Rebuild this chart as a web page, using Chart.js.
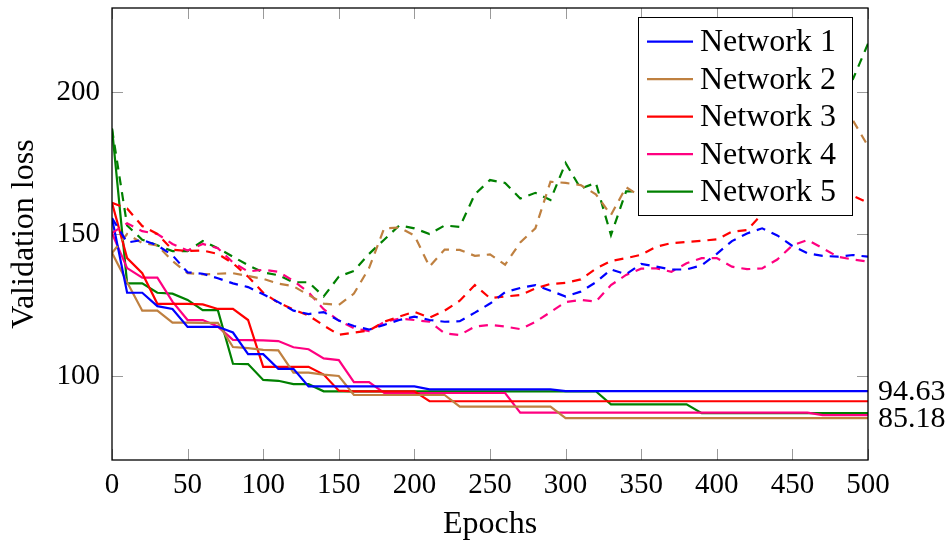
<!DOCTYPE html>
<html><head><meta charset="utf-8">
<script src="https://cdn.jsdelivr.net/npm/chart.js@4.4.1/dist/chart.umd.min.js"></script>
<style>html,body{margin:0;padding:0;background:#fff;}#wrap{width:952px;height:545px;}</style>
</head><body><div id="wrap"><canvas id="c" width="952" height="545"></canvas></div>
<script>
const epochs = [0,10,20,30,40,50,60,70,80,90,100,110,120,130,140,150,160,170,180,190,200,210,220,230,240,250,260,270,280,290,300,310,320,330,340,350,360,370,380,390,400,410,420,430,440,450,460,470,480,490,500];
const xTicks = [0,50,100,150,200,250,300,350,400,450,500];
const yTicks = [100,150,200];
const names = ["Network 1","Network 2","Network 3","Network 4","Network 5"];
const colors = ["#0000FF","#BF8040","#FF0000","#FF0080","#008000"];

const net1Train = [155.6,129.3,129.3,124.6,123.6,117.3,117.3,117.3,115.3,107.7,107.7,102.5,102.5,96.3,96.3,96.3,96.3,96.3,96.3,96.3,96.3,95.3,95.3,95.3,95.3,95.3,95.3,95.3,95.3,95.3,94.63,94.63,94.63,94.63,94.63,94.63,94.63,94.63,94.63,94.63,94.63,94.63,94.63,94.63,94.63,94.63,94.63,94.63,94.63,94.63,94.63];
const net2Train = [143.4,133,123,123,118.8,118.8,118.7,118.7,110.2,109.8,109.2,109,101.2,101.2,100.5,100,93.3,93.3,93.3,93.3,93.3,93.3,93.3,89.2,89.2,89.2,89.2,89.2,89.2,89.2,85.18,85.18,85.18,85.18,85.18,85.18,85.18,85.18,85.18,85.18,85.18,85.18,85.18,85.18,85.18,85.18,85.18,85.18,85.18,85.18,85.18];
const net3Train = [161,141.5,136.2,125.4,125.4,125.4,125.2,123.6,123.6,119.7,103.2,103.2,103.2,103.2,100.5,94.8,94.6,94.6,94.6,94.6,94.6,91.1,91.1,91.1,91.1,91.1,91.1,91.1,91.1,91.1,91.1,91.1,91.1,91.1,91.1,91.1,91.1,91.1,91.1,91.1,91.1,91.1,91.1,91.1,91.1,91.1,91.1,91.1,91.1,91.1,91.1];
const net4Train = [150.3,138,134.6,134.6,126.2,119.7,119.7,117.4,112.7,112.6,112.5,112.3,110.1,109.4,106.2,105.6,97.8,97.8,94,94,94,94,94,94,94,94,94,87.1,87.1,87.1,87.1,87.1,87.1,87.1,87.1,87.1,87.1,87.1,87.1,87.1,87.1,87.1,87.1,87.1,87.1,87.1,87.1,86.2,86.2,86.2,86.2];
const net5Train = [187.2,132.6,132.6,129.3,129,126.8,123.2,123.2,104.3,104.2,98.6,98.3,97.1,97.1,94.6,94.6,94.6,94.6,94.6,94.6,94.6,94.6,94.6,94.6,94.6,94.6,94.6,94.6,94.6,94.6,94.6,94.6,94.6,90,90,90,90,90,90,86.9,86.9,86.9,86.9,86.9,86.9,86.9,86.9,86.9,86.9,86.9,86.9];

const net1Val = [155.6,147,147.9,146,142.5,136.5,136,134.4,132.6,131.3,128.8,126,123,121.8,122.5,119.5,117.6,116.3,118,119.7,120.9,119.7,119.1,119.3,122.3,125.5,129.5,131,132,130,128,129.7,133,137.5,135.8,139.5,138.5,137.5,137.5,139,143,147.5,150.2,152,149.5,145.8,143.2,142.3,142,142.6,142];
const net2Val = [143.3,150,146.8,146,140.5,136.2,135.8,136,136.2,135.2,134.2,132.5,131.6,128.5,125.5,125,129,138,152,152.3,149.5,138.5,144.5,144.4,142.3,142.8,139.2,147,152,168.4,168,167.2,164,156.7,166.5,163,165,168,171,174,177,180,183,185,187,189,191,193,195,190,181];
const net3Val = [161,159,152.8,150,144.5,144,144.2,143,139.7,135,129.3,125.8,123.4,121.3,117.8,114.5,115.3,116,119.1,120.9,122.6,120.5,123,126.5,132,127.4,128,128.5,130.8,132.4,132.8,134,137.8,140.5,141.5,142.7,145.5,146.8,147.2,147.6,148.1,150.8,151.4,157,159,160,161.5,163,164,163.5,161];
const net4Val = [150.3,153.8,151,150,146.5,144.2,146.5,145,140,136.8,137.4,136.7,133.5,129.5,123.5,119.5,116.8,115.8,119,120.2,119.7,119.1,115,114.4,117.4,118,117.4,116.5,119,122.5,126,126.8,126.2,132,135.6,137.8,137.9,136.7,139.7,141.5,141.5,138.5,137.6,137.9,141,146,147.9,145,142,141,140.3];
const net5Val = [187,153,148,146,144,144,147.5,145,142,139,136.5,135.5,133,133,128,135,137,143,148,153,152,150,153,152.5,164,169,168,162.5,164.5,162,175,166,168,149.6,165,165,168,172,175,178,182,185,188,190,193,195,198,200,202,204.5,217];

const trains = [net1Train,net2Train,net3Train,net4Train,net5Train];
const vals = [net1Val,net2Val,net3Val,net4Val,net5Val];
const endLabelSeries = [net1Train, net2Train];

const FONT = "'Liberation Serif', 'DejaVu Serif', serif";
const pts = arr => arr.map((v,i)=>({x:epochs[i], y:v}));

const datasets = [];
for (let k=0;k<5;k++){
  datasets.push({label:names[k], data:pts(vals[k]), borderColor:colors[k], borderWidth:2.2, borderDash:[9,7], pointRadius:0, fill:false, tension:0});
}
for (let k=0;k<5;k++){
  datasets.push({label:names[k], data:pts(trains[k]), borderColor:colors[k], borderWidth:2.2, pointRadius:0, fill:false, tension:0});
}

const deco = {
  id:'deco',
  beforeDatasetsDraw(chart){
    const {ctx, chartArea:a, scales:{x,y}} = chart;
    ctx.save();
    ctx.strokeStyle='#9a9a9a'; ctx.lineWidth=1;
    const L=11;
    xTicks.forEach(v=>{
      const px=Math.round(x.getPixelForValue(v))+0.5;
      ctx.beginPath(); ctx.moveTo(px,a.bottom); ctx.lineTo(px,a.bottom-L); ctx.moveTo(px,a.top); ctx.lineTo(px,a.top+L); ctx.stroke();
    });
    yTicks.forEach(v=>{
      const py=Math.round(y.getPixelForValue(v))+0.5;
      ctx.beginPath(); ctx.moveTo(a.left,py); ctx.lineTo(a.left+L,py); ctx.moveTo(a.right,py); ctx.lineTo(a.right-L,py); ctx.stroke();
    });
    ctx.restore();
  },
  afterDraw(chart){
    const {ctx, chartArea:a, scales:{x,y}} = chart;
    ctx.save();
    ctx.strokeStyle='#000'; ctx.lineWidth=1.3;
    ctx.strokeRect(a.left,a.top,a.right-a.left,a.bottom-a.top);
    ctx.fillStyle='#000';
    ctx.font = "32px "+FONT;
    ctx.textAlign='center'; ctx.textBaseline='alphabetic';
    ctx.fillText("Epochs",(a.left+a.right)/2,533);
    ctx.save();
    ctx.translate(33,(a.top+a.bottom)/2);
    ctx.rotate(-Math.PI/2);
    ctx.fillText("Validation loss",0,0);
    ctx.restore();
    ctx.font = "30px "+FONT;
    ctx.textAlign='left'; ctx.textBaseline='middle';
    endLabelSeries.forEach(s=>{
      const v=s[s.length-1];
      ctx.fillText(v.toFixed(2), a.right+10, y.getPixelForValue(v)+1);
    });
    const bx=638.5, by=17.5, bw=214, bh=198;
    ctx.fillStyle='#fff'; ctx.fillRect(bx,by,bw,bh);
    ctx.strokeStyle='#000'; ctx.lineWidth=1; ctx.strokeRect(bx,by,bw,bh);
    ctx.font="32px "+FONT; ctx.fillStyle='#000'; ctx.textBaseline='middle';
    for (let k=0;k<5;k++){
      const cy = 41.7 + k*37.5;
      ctx.strokeStyle=colors[k]; ctx.lineWidth=2.2;
      ctx.beginPath(); ctx.moveTo(647,cy); ctx.lineTo(693,cy); ctx.stroke();
      ctx.fillText(names[k], 700, cy+1);
    }
    ctx.restore();
  }
};

new Chart(document.getElementById('c'), {
  type:'line',
  data:{datasets},
  options:{
    responsive:false, animation:false, devicePixelRatio:1,
    layout:{padding:{left:0,right:84,top:8,bottom:0}},
    plugins:{legend:{display:false}, tooltip:{enabled:false}},
    scales:{
      x:{type:'linear', min:0, max:500,
        afterBuildTicks:s=>{s.ticks=xTicks.map(v=>({value:v}));},
        afterFit:s=>{s.height=85; s.paddingLeft=0; s.paddingRight=0;},
        grid:{display:false, drawTicks:false}, border:{display:false},
        ticks:{color:'#000', font:{family:FONT, size:29}, padding:8, maxRotation:0, autoSkip:false}
      },
      y:{type:'linear', min:70.4, max:229.6,
        afterBuildTicks:s=>{s.ticks=yTicks.map(v=>({value:v}));},
        afterFit:s=>{s.width=112; s.paddingTop=0; s.paddingBottom=0;},
        grid:{display:false, drawTicks:false}, border:{display:false},
        ticks:{color:'#000', font:{family:FONT, size:29}, padding:12}
      }
    }
  },
  plugins:[deco]
});
</script></body></html>
